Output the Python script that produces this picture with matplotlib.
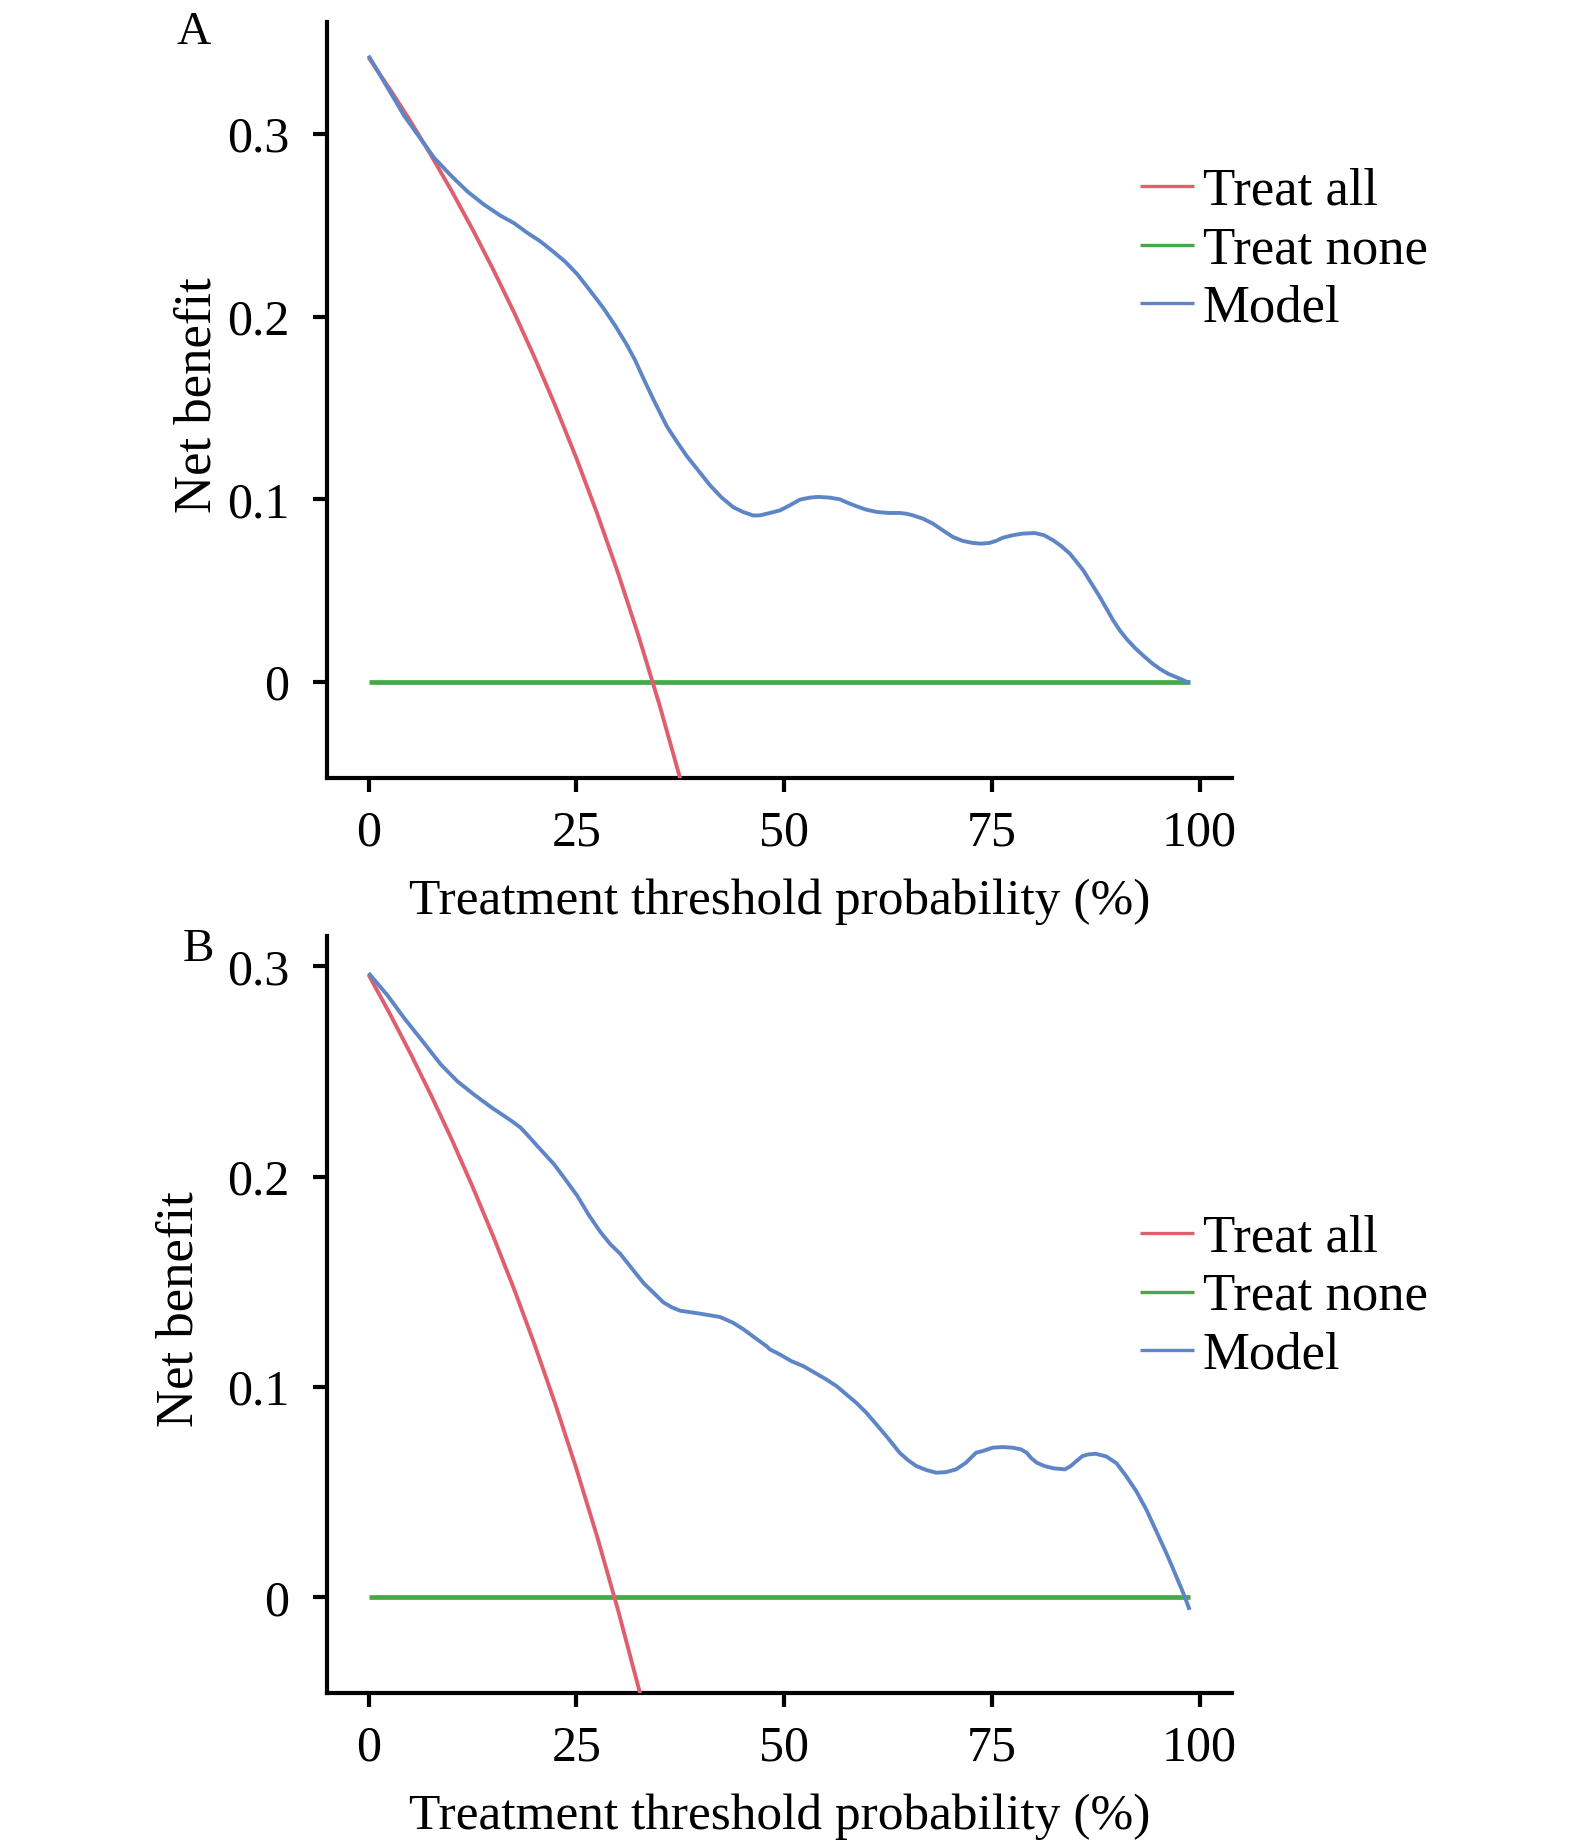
import matplotlib
matplotlib.use("Agg")
import matplotlib.pyplot as plt

plt.rcParams['font.family'] = ['Liberation Serif', 'DejaVu Serif']

# ---------------- data ----------------
xticks = [0, 25, 50, 75, 100]
xlabel = "Treatment threshold probability (%)"
ylabel = "Net benefit"
legend_labels = ["Treat all", "Treat none", "Model"]

# Panel A
a_yticks = [0, 0.1, 0.2, 0.3]
a_ytick_labels = ["0", "0.1", "0.2", "0.3"]
a_all_pt = [0, 2.5, 5, 7.5, 10, 12.5, 15, 17.5, 20, 22.5, 25, 27.5, 30, 32.5, 35, 37.5, 38]
a_all_nb = [0.342, 0.3251, 0.3074, 0.2886, 0.2689, 0.2480, 0.2259, 0.2025, 0.1775,
            0.1510, 0.1227, 0.0924, 0.0600, 0.0251, -0.0123, -0.0528, -0.0613]
a_none_pt = [0, 98.9]
a_none_nb = [0, 0]
a_model_pt = [0, 4.3, 7.9, 9.9, 11.9, 13.9, 15.9, 17.5, 19.1, 20.7, 22.3, 23.7, 25.1,
              26.7, 28.3, 29.7, 31.1, 32.1, 33.1, 34.3, 35.9, 37.1, 38.3, 39.7, 41.1,
              42.5, 43.9, 45.1, 46.3, 47.1, 48.3, 49.5, 50.7, 51.9, 53.1, 54.1, 55.5,
              56.7, 57.7, 58.7, 59.9, 61.1, 62.5, 63.9, 64.7, 65.5, 66.7, 67.9, 69.1,
              70.3, 71.5, 72.7, 73.7, 74.7, 75.5, 76.3, 77.5, 78.7, 80.2, 81.3, 82.4,
              83.4, 84.4, 85.2, 86.0, 87.0, 88.0, 88.8, 89.6, 90.4, 91.2, 92.2, 93.2,
              94.2, 95.2, 96.2, 97.2, 98.8]
a_model_nb = [0.343, 0.310, 0.287, 0.2774, 0.2686, 0.2614, 0.2553, 0.2513, 0.246,
              0.2412, 0.2354, 0.230, 0.2234, 0.2141, 0.2045, 0.195, 0.1845, 0.176,
              0.166, 0.1545, 0.1400, 0.1316, 0.1237, 0.1157, 0.1077, 0.101, 0.0957,
              0.0931, 0.0912, 0.0913, 0.0926, 0.094, 0.0968, 0.0999, 0.101, 0.1014,
              0.101, 0.1001, 0.0981, 0.0963, 0.0944, 0.0932, 0.0926, 0.0926, 0.0922,
              0.0913, 0.0895, 0.0868, 0.0831, 0.0795, 0.0773, 0.0762, 0.0758, 0.0762,
              0.0773, 0.079, 0.0804, 0.0813, 0.0816, 0.0804, 0.0776, 0.0743, 0.0703,
              0.0658, 0.0612, 0.0539, 0.0466, 0.0402, 0.0338, 0.0283, 0.0237, 0.0188,
              0.0146, 0.0106, 0.0073, 0.0046, 0.0027, -0.0005]

# Panel B
b_yticks = [0, 0.1, 0.2, 0.3]
b_ytick_labels = ["0", "0.1", "0.2", "0.3"]
b_all_pt = [0, 2.5, 5, 7.5, 10, 12.5, 15, 17.5, 20, 22.5, 25, 27.5, 30, 32.5, 33]
b_all_nb = [0.296, 0.2779, 0.2589, 0.2389, 0.2178, 0.1954, 0.1717, 0.1467, 0.120,
            0.0916, 0.0613, 0.0290, -0.0057, -0.0430, -0.0507]
b_none_pt = [0, 98.9]
b_none_nb = [0, 0]
b_model_pt = [0, 2.3, 4.3, 6.3, 8.7, 10.7, 12.7, 14.9, 17.1, 18.3, 19.1, 20.7, 22.3,
              23.7, 25.1, 26.5, 27.9, 29.1, 30.3, 31.7, 33.1, 34.3, 35.5, 36.5, 37.5,
              39.9, 42.3, 43.9, 45.1, 46.3, 47.9, 48.3, 49.5, 50.9, 52.3, 53.7, 55.1,
              56.3, 57.5, 58.7, 59.9, 61.1, 62.3, 63.1, 63.9, 64.9, 65.9, 67.1, 68.3,
              69.5, 70.7, 71.9, 73.1, 73.9, 75.1, 76.3, 77.5, 78.5, 79.2, 79.7, 80.4,
              81.3, 82.4, 83.8, 84.5, 85.2, 85.9, 86.6, 87.5, 88.8, 90.0, 91.2, 92.4,
              93.6, 94.8, 96.0, 97.2, 98.2, 98.8]
b_model_nb = [0.2968, 0.2861, 0.2753, 0.2654, 0.2533, 0.2453, 0.239, 0.2326, 0.2268,
              0.2233, 0.2199, 0.2129, 0.206, 0.1986, 0.191, 0.1818, 0.1737, 0.1679,
              0.1633, 0.1563, 0.1494, 0.1448, 0.1402, 0.1379, 0.1363, 0.1349, 0.1333,
              0.1305, 0.1275, 0.124, 0.1194, 0.1179, 0.1155, 0.1123, 0.110, 0.1068,
              0.1036, 0.1005, 0.0965, 0.0925, 0.0878, 0.0823, 0.0767, 0.0728, 0.0688,
              0.0653, 0.0625, 0.0606, 0.0593, 0.0596, 0.0609, 0.0641, 0.0688, 0.0696,
              0.0712, 0.0715, 0.0712, 0.0704, 0.0688, 0.0664, 0.0641, 0.0625, 0.0614,
              0.0609, 0.0625, 0.0649, 0.0672, 0.068, 0.0683, 0.067, 0.0638, 0.0575,
              0.0504, 0.0417, 0.0314, 0.0211, 0.010, 0.0005, -0.0059]

# ---------------- style ----------------
C_ALL = "#DF5F6E"
C_NONE = "#43AA47"
C_MODEL = "#5E86C6"
FS = 36

W, H = 1575, 1848
fig = plt.figure(figsize=(W / 100, H / 100), dpi=100)

def px_axes(left, top, right, bottom):
    return fig.add_axes([left / W, 1 - bottom / H, (right - left) / W, (bottom - top) / H])

axA = px_axes(327, 22, 1232, 778)
axB = px_axes(327, 936, 1232, 1693)

panels = [
    (axA, a_all_pt, a_all_nb, a_none_pt, a_none_nb, a_model_pt, a_model_nb,
     a_yticks, a_ytick_labels, (-0.0525, 0.3614), -0.117, 250),
    (axB, b_all_pt, b_all_nb, b_none_pt, b_none_nb, b_model_pt, b_model_nb,
     b_yticks, b_ytick_labels, (-0.0454, 0.3144), -0.137, 1297),
]

for (ax, apt, anb, npt, nnb, mpt, mnb, yt, ytl, ylim, ylab_x, leg_y) in panels:
    l1, = ax.plot(apt, anb, color=C_ALL, lw=2.8, solid_capstyle='butt',
                  solid_joinstyle='round', zorder=3)
    l2, = ax.plot(npt, nnb, color=C_NONE, lw=3.4, solid_capstyle='butt', zorder=2)
    l3, = ax.plot(mpt, mnb, color=C_MODEL, lw=2.8, solid_capstyle='butt',
                  solid_joinstyle='round', zorder=4)
    ax.set_xlim(-5, 103.9)
    ax.set_ylim(*ylim)
    ax.set_xticks(xticks)
    ax.set_xticklabels([str(t) for t in xticks])
    ax.set_yticks(yt)
    ax.set_yticklabels(ytl)
    for s in ("top", "right"):
        ax.spines[s].set_visible(False)
    for s in ("left", "bottom"):
        ax.spines[s].set_linewidth(3.0)
        ax.spines[s].set_color("black")
    ax.tick_params(axis="both", direction="out", length=10, width=3.0,
                   labelsize=FS, colors="black")
    ax.tick_params(axis="y", pad=17)
    ax.tick_params(axis="x", pad=13)
    ax.set_xlabel(xlabel, fontsize=37, labelpad=16)
    ax.set_ylabel(ylabel, fontsize=38)
    ax.yaxis.set_label_coords(ylab_x, 0.507)
    leg = ax.legend([l1, l2, l3], legend_labels, loc="center left",
                    bbox_to_anchor=(1140 / W, 1 - leg_y / H),
                    bbox_transform=fig.transFigure, frameon=False,
                    fontsize=38, handlelength=1.02, handletextpad=0.17,
                    labelspacing=0.2, borderpad=0, borderaxespad=0)
    for h in leg.get_lines():
        h.set_linewidth(2.4)

fig.text(194 / W, 1 - 44 / H, "A", fontsize=34, ha="center", va="baseline")
fig.text(198 / W, 1 - 961 / H, "B", fontsize=34, ha="center", va="baseline")

fig.savefig("out.png", dpi=100, facecolor="white")
